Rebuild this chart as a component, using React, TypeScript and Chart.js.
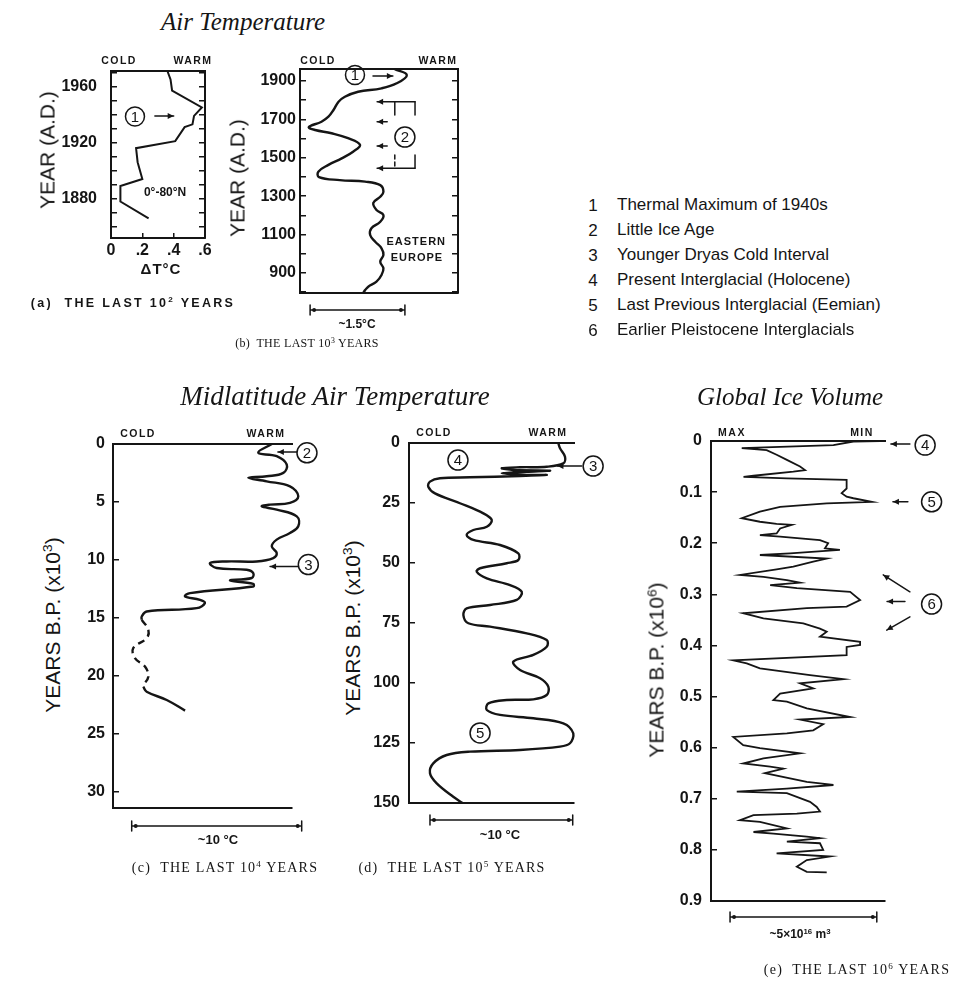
import React, { useEffect, useRef } from 'react';
import { Chart, registerables } from 'chart.js';
Chart.register(...registerables);

const INK = '#151515';
const SANS = '"Liberation Sans", Arial, sans-serif';
const SERIF = '"Liberation Serif", "DejaVu Serif", serif';

// ---------- (a) last 10^2 years: Delta T (°C), 0-80°N ----------
const aYears = [1971, 1965, 1957, 1945, 1939, 1933, 1931, 1921, 1916, 1906, 1894, 1889, 1878, 1866];
const aDeltaT = [0.36, 0.38, 0.39, 0.58, 0.53, 0.52, 0.47, 0.41, 0.16, 0.17, 0.2, 0.06, 0.06, 0.24];
const aYLabels = [1880, 1920, 1960];
const aXLabels = [0, 0.2, 0.4, 0.6];

// ---------- (b) last 10^3 years: Eastern Europe (°C above coldest) ----------
const bYears = [1962, 1931, 1888, 1862, 1844, 1818, 1792, 1749, 1714, 1688, 1660, 1645, 1628, 1602, 1567, 1532, 1497, 1463, 1428, 1400, 1384, 1376, 1358, 1323, 1297, 1265, 1228, 1202, 1167, 1133, 1098, 1063, 1029, 994, 959, 924, 890, 855, 829, 811, 797];
const bTemp = [1.5, 1.69, 1.53, 1.29, 0.92, 0.71, 0.61, 0.53, 0.45, 0.34, 0.14, 0.24, 0.5, 0.76, 0.95, 0.84, 0.66, 0.45, 0.29, 0.3, 0.63, 1.03, 1.27, 1.32, 1.27, 1.16, 1.21, 1.32, 1.27, 1.13, 1.11, 1.19, 1.29, 1.32, 1.27, 1.32, 1.29, 1.21, 1.08, 1.03, 1.0];
const bYLabels = [900, 1100, 1300, 1500, 1700, 1900];

// ---------- (c) last 10^4 years (x10^3 yr B.P.) ----------
const cYearsSolid1 = [0, 0.76, 1.05, 1.77, 2.49, 2.78, 2.92, 3.22, 3.65, 4.51, 5.08, 5.23, 5.38, 5.66, 6.24, 7.1, 7.68, 8.25, 8.83, 9.4, 9.84, 10.13, 10.13, 10.27, 10.7, 10.85, 11.13, 11.56, 11.77, 12.06, 12.29, 12.86, 13.15, 13.44, 13.72, 14.16, 14.45, 14.88, 15.17];
const cTempSolid1 = [9.34, 8.55, 9.63, 10.22, 10.02, 9.04, 7.96, 9.04, 10.41, 10.9, 10.41, 9.24, 8.75, 9.63, 10.81, 10.9, 10.41, 9.63, 9.34, 9.63, 9.43, 8.45, 6.69, 5.71, 6.1, 7.86, 8.25, 8.16, 6.88, 8.25, 8.25, 4.53, 4.24, 5.12, 5.41, 4.92, 1.98, 1.69, 1.69];
const cYearsDashed = [15.17, 16.03, 16.75, 17.61, 18.48, 19.2, 20.07, 20.79];
const cTempDashed = [1.69, 2.08, 1.98, 1.19, 1.29, 1.88, 2.08, 1.78];
const cYearsSolid2 = [20.93, 21.37, 22.08, 23.0];
const cTempSolid2 = [1.78, 1.98, 3.16, 4.24];
const cYLabels = [0, 5, 10, 15, 20, 25, 30];

// ---------- (d) last 10^5 years (x10^3 yr B.P.) ----------
const dYears = [0, 2.2, 5.7, 8.5, 9.9, 10.1, 10.5, 11.25, 11.5, 12.0, 12.6, 13.3, 13.3, 13.75, 14.3, 14.7, 16.1, 18.2, 21.0, 25.1, 29.3, 32.1, 34.9, 36.25, 38.3, 40.4, 42.5, 46.0, 48.75, 50.1, 52.2, 53.6, 56.4, 59.2, 62.0, 65.4, 67.5, 68.9, 71.7, 75.1, 76.5, 79.3, 82.1, 84.9, 88.3, 91.1, 94.6, 98.0, 101.5, 105.0, 106.8, 107.1, 108.5, 111.25, 113.3, 114.7, 116.8, 121.0, 125.1, 126.5, 127.9, 128.6, 130.0, 133.5, 137.6, 141.8, 147.4, 150];
const dTemp = [10.46, 10.58, 10.93, 10.81, 9.65, 7.78, 6.5, 7.31, 9.88, 8.25, 6.5, 8.25, 9.65, 7.78, 4.27, 2.17, 1.47, 1.35, 1.82, 3.57, 5.21, 5.8, 5.45, 4.51, 4.04, 4.51, 6.38, 7.66, 7.66, 6.85, 4.98, 4.74, 5.45, 7.08, 7.9, 7.55, 5.68, 4.04, 3.81, 4.16, 5.68, 8.25, 9.65, 9.65, 8.71, 7.31, 7.78, 9.18, 9.76, 9.65, 8.71, 6.85, 5.56, 5.45, 6.38, 8.71, 10.81, 11.51, 11.28, 10.58, 7.78, 4.27, 2.64, 1.7, 1.47, 1.94, 3.1, 3.75];
const dYLabels = [0, 25, 50, 75, 100, 125, 150];

// ---------- (e) last 10^6 years: global ice volume (10^16 m^3 above minimum) ----------
const eAge = [0.0, 0.001, 0.008, 0.014, 0.018, 0.027, 0.037, 0.05, 0.057, 0.06, 0.068, 0.07, 0.073, 0.076, 0.093, 0.102, 0.109, 0.112, 0.119, 0.122, 0.129, 0.138, 0.151, 0.158, 0.162, 0.164, 0.171, 0.181, 0.184, 0.187, 0.194, 0.2, 0.21, 0.213, 0.22, 0.223, 0.23, 0.236, 0.246, 0.251, 0.262, 0.266, 0.272, 0.277, 0.282, 0.288, 0.295, 0.311, 0.324, 0.327, 0.337, 0.347, 0.357, 0.367, 0.373, 0.383, 0.393, 0.399, 0.403, 0.419, 0.429, 0.435, 0.445, 0.458, 0.466, 0.474, 0.484, 0.494, 0.507, 0.51, 0.523, 0.54, 0.545, 0.554, 0.566, 0.572, 0.579, 0.595, 0.601, 0.611, 0.621, 0.631, 0.637, 0.641, 0.65, 0.667, 0.673, 0.68, 0.686, 0.689, 0.706, 0.716, 0.725, 0.729, 0.732, 0.742, 0.745, 0.758, 0.765, 0.768, 0.774, 0.777, 0.784, 0.787, 0.8, 0.807, 0.813, 0.82, 0.833, 0.843, 0.844];
const eIce = [0.17, 1.08, 1.76, 4.89, 4.04, 3.7, 3.35, 2.9, 2.73, 3.13, 4.49, 4.83, 3.35, 1.31, 1.31, 1.48, 1.31, 1.08, 0.45, 1.99, 3.58, 4.27, 4.89, 4.27, 3.7, 3.18, 3.58, 3.7, 4.27, 3.58, 2.22, 1.94, 2.05, 1.54, 3.24, 4.27, 1.99, 2.45, 3.13, 3.7, 4.95, 4.15, 3.35, 2.9, 3.92, 3.01, 1.19, 0.85, 1.31, 2.67, 4.84, 4.15, 2.79, 2.22, 1.99, 2.22, 0.85, 0.85, 1.31, 1.31, 5.18, 4.72, 4.27, 2.56, 1.42, 2.9, 2.45, 3.58, 3.81, 3.35, 2.67, 1.19, 2.9, 2.11, 2.45, 3.35, 5.18, 4.84, 4.27, 2.9, 4.15, 4.84, 3.92, 3.47, 4.1, 2.67, 1.76, 3.35, 5.06, 3.35, 2.56, 2.33, 2.22, 3.01, 4.49, 4.95, 4.27, 3.35, 4.49, 3.81, 2.67, 2.22, 3.35, 2.22, 2.11, 3.7, 1.88, 2.67, 3.01, 2.67, 1.99];
const eYLabels = [0, 0.1, 0.2, 0.3, 0.4, 0.5, 0.6, 0.7, 0.8, 0.9];

const legendNums = ['1', '2', '3', '4', '5', '6'];
const legendItems = [
  'Thermal Maximum of 1940s',
  'Little Ice Age',
  'Younger Dryas Cold Interval',
  'Present Interglacial (Holocene)',
  'Last Previous Interglacial (Eemian)',
  'Earlier Pleistocene Interglacials',
];

// ---------------------------------------------------------------------------
type Frame = { l: number; t: number; r: number; b: number; ml: number; mt: number; mr: number; mb: number };

const near = (a: number, b: number) => Math.abs(a - b) < 1e-6;

function annotPlugin(spec: any) {
  return {
    id: 'annot',
    afterDraw(chart: any) {
      const ctx = chart.ctx;
      const xs = chart.scales.x;
      const ys = chart.scales.y;
      const X = (v: number) => xs.getPixelForValue(v);
      const Y = (v: number) => ys.getPixelForValue(v);
      const area = chart.chartArea;
      ctx.save();
      ctx.strokeStyle = INK;
      ctx.fillStyle = INK;
      ctx.lineCap = 'round';
      for (const s of spec.segs || []) {
        const x1 = X(s.x1), y1 = Y(s.y1), x2 = X(s.x2), y2 = Y(s.y2);
        ctx.beginPath();
        ctx.lineWidth = 1.5;
        ctx.setLineDash(s.dash || []);
        ctx.moveTo(x1, y1);
        ctx.lineTo(x2, y2);
        ctx.stroke();
        ctx.setLineDash([]);
        if (s.head) {
          const ang = Math.atan2(y2 - y1, x2 - x1);
          const L = 6, W = 3;
          ctx.beginPath();
          ctx.moveTo(x2, y2);
          ctx.lineTo(x2 - L * Math.cos(ang) + W * Math.sin(ang), y2 - L * Math.sin(ang) - W * Math.cos(ang));
          ctx.lineTo(x2 - L * Math.cos(ang) - W * Math.sin(ang), y2 - L * Math.sin(ang) + W * Math.cos(ang));
          ctx.closePath();
          ctx.fill();
        }
      }
      for (const c of spec.circles || []) {
        const cx = X(c.x), cy = Y(c.y);
        ctx.beginPath();
        ctx.lineWidth = 1.5;
        ctx.arc(cx, cy, c.r || 10, 0, Math.PI * 2);
        ctx.stroke();
        ctx.font = `15px ${SANS}`;
        ctx.textAlign = 'center';
        ctx.textBaseline = 'middle';
        ctx.fillText(c.l, cx, cy + 1);
      }
      for (const t of spec.texts || []) {
        ctx.font = t.font;
        (ctx as any).letterSpacing = t.ls || '0px';
        ctx.textAlign = 'center';
        ctx.textBaseline = 'middle';
        ctx.fillText(t.t, X(t.x), Y(t.y));
        (ctx as any).letterSpacing = '0px';
      }
      for (const b of spec.bars || []) {
        const y = area.bottom + b.dy;
        const x1 = X(b.x1), x2 = X(b.x2);
        ctx.lineWidth = 1.5;
        ctx.beginPath();
        ctx.moveTo(x1, y);
        ctx.lineTo(x2, y);
        ctx.moveTo(x1, y - 5);
        ctx.lineTo(x1, y + 5);
        ctx.moveTo(x2, y - 5);
        ctx.lineTo(x2, y + 5);
        ctx.stroke();
        const dir = x2 > x1 ? 1 : -1;
        ctx.beginPath();
        ctx.arc(x1 + dir * 4, y, 2, 0, Math.PI * 2);
        ctx.arc(x2 - dir * 4, y, 2, 0, Math.PI * 2);
        ctx.fill();
      }
      ctx.restore();
    },
  };
}

interface AxisSpec {
  min: number;
  max: number;
  reverse?: boolean;
  step?: number;
  labels?: number[];
  fmt?: (v: number) => string;
  pad?: number;
}

interface PanelSpec {
  frame: Frame;
  datasets: any[];
  x: AxisSpec;
  y: AxisSpec;
  box: boolean;
  annot: any;
}

// tick positions every `step` inside [min, max]
function stepTicks(a: AxisSpec) {
  return (sc: any) => {
    const st = a.step as number;
    const out: any[] = [];
    for (let k = Math.ceil(a.min / st - 1e-9); k * st <= a.max + 1e-9; k++) out.push({ value: +(k * st).toFixed(6) });
    sc.ticks = out;
  };
}

function buildConfig(s: PanelSpec): any {
  const f = s.frame;
  const tickFont = { family: SANS, size: 16, weight: 'bold' as const };
  const ySpec = s.y;
  const yLabel = (v: number) =>
    (ySpec.labels || []).some((l) => near(l, v)) ? (ySpec.fmt ? ySpec.fmt(v) : String(v)) : '';
  const border = { display: true, color: INK, width: 2 };
  const scales: any = {
    x: {
      type: 'linear',
      position: 'bottom',
      min: s.x.min,
      max: s.x.max,
      reverse: !!s.x.reverse,
      afterFit: (sc: any) => {
        sc.height = f.mb;
      },
      border,
      grid: { display: !!s.x.labels, drawOnChartArea: false, drawTicks: true, tickLength: -5, color: INK, lineWidth: 1.5 },
      ticks: s.x.labels
        ? {
            display: true,
            autoSkip: false,
            maxRotation: 0,
            font: tickFont,
            color: INK,
            padding: s.x.pad,
            callback: (v: number) =>
              (s.x.labels || []).some((l) => near(l, v)) ? (s.x.fmt ? s.x.fmt(v) : String(v)) : '',
          }
        : { display: false },
    },
    xTop: {
      type: 'linear',
      axis: 'x',
      position: 'top',
      min: s.x.min,
      max: s.x.max,
      reverse: !!s.x.reverse,
      afterFit: (sc: any) => {
        sc.height = 0;
      },
      border,
      grid: { display: false },
      ticks: { display: false },
    },
    y: {
      type: 'linear',
      position: 'left',
      min: s.y.min,
      max: s.y.max,
      reverse: !!s.y.reverse,
      afterFit: (sc: any) => {
        sc.width = f.ml;
      },
      afterBuildTicks: stepTicks(s.y),
      border,
      grid: { display: true, drawOnChartArea: false, drawTicks: true, tickLength: -6, color: INK, lineWidth: 1.5 },
      ticks: {
        autoSkip: false,
        font: tickFont,
        color: INK,
        padding: s.y.pad,
        callback: yLabel,
      },
    },
  };
  if (s.x.labels && s.x.step) scales.x.afterBuildTicks = stepTicks(s.x);
  if (s.box) {
    scales.y2 = {
      type: 'linear',
      axis: 'y',
      position: 'right',
      min: s.y.min,
      max: s.y.max,
      reverse: !!s.y.reverse,
      afterFit: (sc: any) => {
        sc.width = 0;
      },
      afterBuildTicks: stepTicks(s.y),
      border,
      grid: { display: true, drawOnChartArea: false, drawTicks: true, tickLength: -6, color: INK, lineWidth: 1.5 },
      ticks: { display: false, autoSkip: false },
    };
  }
  return {
    type: 'scatter',
    data: { datasets: s.datasets },
    options: {
      responsive: false,
      animation: false,
      events: [],
      layout: { padding: { left: 0, top: f.mt, right: f.mr, bottom: 0 } },
      plugins: { legend: { display: false }, tooltip: { enabled: false } },
      scales,
    },
    plugins: [annotPlugin(s.annot)],
  };
}

function line(xs: number[], ys: number[], extra: any = {}) {
  return {
    data: ys.map((y, i) => ({ x: xs[i], y })),
    showLine: true,
    borderColor: INK,
    borderWidth: 2.2,
    pointRadius: 0,
    fill: false,
    clip: false,
    ...extra,
  };
}

function Panel({ spec }: { spec: PanelSpec }) {
  const ref = useRef<HTMLCanvasElement>(null);
  const f = spec.frame;
  const w = f.r - f.l + f.ml + f.mr;
  const h = f.b - f.t + f.mt + f.mb;
  useEffect(() => {
    const chart = new Chart(ref.current as HTMLCanvasElement, buildConfig(spec));
    return () => chart.destroy();
  }, []);
  return (
    <canvas
      ref={ref}
      width={w}
      height={h}
      style={{ position: 'absolute', left: f.l - f.ml, top: f.t - f.mt, width: w, height: h }}
    />
  );
}

// ---------------------------------------------------------------------------
const specA: PanelSpec = {
  frame: { l: 111, t: 71, r: 205, b: 238, ml: 75, mt: 34, mr: 28, mb: 40 },
  datasets: [line(aDeltaT, aYears, { borderWidth: 2 })],
  x: { min: 0, max: 0.6, step: 0.2, labels: aXLabels, pad: 8, fmt: (v) => (near(v, 0) ? '0' : '.' + Math.round(v * 10)) },
  y: { min: 1852, max: 1971, step: 10, labels: aYLabels, pad: 20 },
  box: true,
  annot: {
    circles: [{ x: 0.153, y: 1938.6, l: '1', r: 9.5 }],
    segs: [{ x1: 0.28, y1: 1939, x2: 0.4, y2: 1939, head: true }],
    texts: [{ x: 0.345, y: 1884, t: '0°-80°N', font: `bold 12px ${SANS}` }],
  },
};

const specB: PanelSpec = {
  frame: { l: 300, t: 69, r: 458, b: 293, ml: 60, mt: 34, mr: 25, mb: 45 },
  datasets: [line(bTemp, bYears, { tension: 0.4, borderWidth: 2.4 })],
  x: { min: 0, max: 2.5 },
  y: { min: 796, max: 1962.5, step: 100, labels: bYLabels, pad: 10 },
  box: true,
  annot: {
    circles: [
      { x: 0.87, y: 1931, l: '1', r: 9.5 },
      { x: 1.66, y: 1608, l: '2', r: 10 },
    ],
    segs: [
      { x1: 1.155, y1: 1926, x2: 1.47, y2: 1926, head: true },
      { x1: 1.82, y1: 1792, x2: 1.22, y2: 1792, head: true },
      { x1: 1.38, y1: 1688, x2: 1.22, y2: 1688, head: true },
      { x1: 1.38, y1: 1561, x2: 1.22, y2: 1561, head: true },
      { x1: 1.82, y1: 1445, x2: 1.22, y2: 1445, head: true },
      { x1: 1.5, y1: 1792, x2: 1.5, y2: 1723 },
      { x1: 1.82, y1: 1792, x2: 1.82, y2: 1723 },
      { x1: 1.5, y1: 1515, x2: 1.5, y2: 1445, dash: [4, 3] },
      { x1: 1.82, y1: 1515, x2: 1.82, y2: 1445 },
    ],
    texts: [
      { x: 1.84, y: 1061, t: 'EASTERN', font: `bold 11px ${SANS}`, ls: '1px' },
      { x: 1.85, y: 978, t: 'EUROPE', font: `bold 11px ${SANS}`, ls: '1px' },
    ],
    bars: [{ x1: 0.16, x2: 1.66, dy: 17 }],
  },
};

const specC: PanelSpec = {
  frame: { l: 113, t: 444, r: 292, b: 808, ml: 40, mt: 34, mr: 35, mb: 45 },
  datasets: [
    line(cTempSolid1, cYearsSolid1, { tension: 0.4, borderWidth: 2.4 }),
    line(cTempDashed, cYearsDashed, { tension: 0.4, borderWidth: 2.4, borderDash: [7, 5] }),
    line(cTempSolid2, cYearsSolid2, { tension: 0.4, borderWidth: 2.4 }),
  ],
  x: { min: 0, max: 10.53 },
  y: { min: 0, max: 31.4, reverse: true, step: 5, labels: cYLabels, pad: 14 },
  box: false,
  annot: {
    circles: [
      { x: 11.41, y: 0.76, l: '2' },
      { x: 11.49, y: 10.4, l: '3' },
    ],
    segs: [
      { x1: 10.82, y1: 0.7, x2: 9.7, y2: 0.7, head: true },
      { x1: 10.88, y1: 10.56, x2: 9.24, y2: 10.56, head: true },
    ],
    bars: [{ x1: 1.1, x2: 11.1, dy: 18 }],
  },
};

const specD: PanelSpec = {
  frame: { l: 409, t: 443, r: 574, b: 803, ml: 45, mt: 34, mr: 45, mb: 45 },
  datasets: [line(dTemp, dYears, { tension: 0.35, borderWidth: 2.4 })],
  x: { min: 0, max: 11.56 },
  y: { min: 0, max: 150, reverse: true, step: 25, labels: dYLabels, pad: 15 },
  box: false,
  annot: {
    circles: [
      { x: 3.43, y: 7.1, l: '4' },
      { x: 12.9, y: 9.6, l: '3' },
      { x: 4.98, y: 120.8, l: '5' },
    ],
    segs: [{ x1: 12.1, y1: 9.6, x2: 10.4, y2: 9.6, head: true }],
    bars: [{ x1: 1.47, x2: 11.47, dy: 17 }],
  },
};

const specE: PanelSpec = {
  frame: { l: 711, t: 441, r: 885, b: 901, ml: 50, mt: 34, mr: 60, mb: 45 },
  datasets: [line(eIce, eAge, { borderWidth: 1.8 })],
  x: { min: 0, max: 5.94, reverse: true },
  y: { min: 0, max: 0.9, reverse: true, step: 0.1, labels: eYLabels, pad: 15, fmt: (v) => (near(v, 0) ? '0' : v.toFixed(1)) },
  box: false,
  annot: {
    circles: [
      { x: -1.37, y: 0.008, l: '4' },
      { x: -1.59, y: 0.119, l: '5' },
      { x: -1.59, y: 0.319, l: '6' },
    ],
    segs: [
      { x1: -0.85, y1: 0.006, x2: -0.2, y2: 0.006, head: true },
      { x1: -0.78, y1: 0.119, x2: -0.27, y2: 0.119, head: true },
      { x1: -0.68, y1: 0.314, x2: -0.07, y2: 0.314, head: true },
      { x1: -0.85, y1: 0.295, x2: 0.06, y2: 0.262, head: true },
      { x1: -0.85, y1: 0.344, x2: -0.06, y2: 0.37, head: true },
    ],
    bars: [{ x1: 5.29, x2: 0.28, dy: 16 }],
  },
};

// ---------------------------------------------------------------------------
function Txt({ x, y, children, style, rot }: { x: number; y: number; children: any; style?: any; rot?: boolean }) {
  return (
    <div
      style={{
        position: 'absolute',
        left: x,
        top: y,
        transform: `translate(-50%, -50%)${rot ? ' rotate(-90deg)' : ''}`,
        whiteSpace: 'nowrap',
        lineHeight: 1,
        ...style,
      }}
    >
      {children}
    </div>
  );
}

const supStyle = { fontSize: '0.65em', verticalAlign: '0.55em', lineHeight: 0 };
const titleStyle = { fontFamily: SERIF, fontStyle: 'italic', fontSize: 25 };
const smallCaps = { fontFamily: SANS, fontWeight: 'bold', fontSize: 10.5, letterSpacing: 1.5 };
const axisTitle = { fontFamily: SANS, fontSize: 21 };
const capSerif = { fontFamily: SERIF, fontSize: 14, letterSpacing: 1.2 };

export default function App() {
  return (
    <div
      style={{
        position: 'absolute',
        left: 0,
        top: 0,
        width: 960,
        height: 984,
        background: '#fff',
        color: INK,
        fontFamily: SANS,
        overflow: 'hidden',
      }}
    >
      <Panel spec={specA} />
      <Panel spec={specB} />
      <Panel spec={specC} />
      <Panel spec={specD} />
      <Panel spec={specE} />

      <Txt x={243} y={21} style={titleStyle}>Air Temperature</Txt>
      <Txt x={335} y={396} style={{ ...titleStyle, fontSize: 27 }}>Midlatitude Air Temperature</Txt>
      <Txt x={790} y={396} style={titleStyle}>Global Ice Volume</Txt>

      {/* (a) */}
      <Txt x={119} y={60} style={smallCaps}>COLD</Txt>
      <Txt x={193} y={60} style={smallCaps}>WARM</Txt>
      <Txt x={47} y={150} rot style={axisTitle}>YEAR (A.D.)</Txt>
      <Txt x={161} y={268} style={{ fontWeight: 'bold', fontSize: 15, letterSpacing: 1 }}>ΔT°C</Txt>
      <Txt x={133} y={303} style={{ fontWeight: 'bold', fontSize: 12.5, letterSpacing: 2.3 }}>
        (a)&nbsp; THE LAST 10<span style={supStyle}>2</span> YEARS
      </Txt>

      {/* (b) */}
      <Txt x={318} y={60} style={smallCaps}>COLD</Txt>
      <Txt x={438} y={60} style={smallCaps}>WARM</Txt>
      <Txt x={237} y={178} rot style={axisTitle}>YEAR (A.D.)</Txt>
      <Txt x={357} y={324} style={{ fontWeight: 'bold', fontSize: 12 }}>~1.5°C</Txt>
      <Txt x={307} y={343} style={{ fontFamily: SERIF, fontSize: 12, letterSpacing: 0.3 }}>
        (b)&nbsp; THE LAST 10<span style={supStyle}>3</span> YEARS
      </Txt>

      {/* legend */}
      {legendItems.map((item, i) => (
        <React.Fragment key={item}>
          <Txt x={593} y={205 + i * 25} style={{ fontSize: 17 }}>{legendNums[i]}</Txt>
          <div style={{ position: 'absolute', left: 617, top: 205 + i * 25 - 9, fontSize: 17, lineHeight: 1, whiteSpace: 'nowrap' }}>
            {item}
          </div>
        </React.Fragment>
      ))}

      {/* (c) */}
      <Txt x={138} y={433} style={smallCaps}>COLD</Txt>
      <Txt x={266} y={433} style={smallCaps}>WARM</Txt>
      <Txt x={52} y={625} rot style={axisTitle}>
        YEARS B.P. (x10<span style={supStyle}>3</span>)
      </Txt>
      <Txt x={218} y={839} style={{ fontWeight: 'bold', fontSize: 13 }}>~10 °C</Txt>
      <Txt x={225} y={868} style={capSerif}>
        (c)&nbsp; THE LAST 10<span style={supStyle}>4</span> YEARS
      </Txt>

      {/* (d) */}
      <Txt x={434} y={432} style={smallCaps}>COLD</Txt>
      <Txt x={548} y={432} style={smallCaps}>WARM</Txt>
      <Txt x={352} y={628} rot style={axisTitle}>
        YEARS B.P. (x10<span style={supStyle}>3</span>)
      </Txt>
      <Txt x={500} y={834} style={{ fontWeight: 'bold', fontSize: 13 }}>~10 °C</Txt>
      <Txt x={452} y={868} style={capSerif}>
        (d)&nbsp; THE LAST 10<span style={supStyle}>5</span> YEARS
      </Txt>

      {/* (e) */}
      <Txt x={732} y={432} style={smallCaps}>MAX</Txt>
      <Txt x={862} y={432} style={smallCaps}>MIN</Txt>
      <Txt x={656} y={670} rot style={axisTitle}>
        YEARS B.P. (x10<span style={supStyle}>6</span>)
      </Txt>
      <Txt x={800} y={934} style={{ fontWeight: 'bold', fontSize: 12 }}>
        ~5×10<span style={supStyle}>16</span> m<span style={supStyle}>3</span>
      </Txt>
      <Txt x={857} y={970} style={capSerif}>
        (e)&nbsp; THE LAST 10<span style={supStyle}>6</span> YEARS
      </Txt>
    </div>
  );
}
